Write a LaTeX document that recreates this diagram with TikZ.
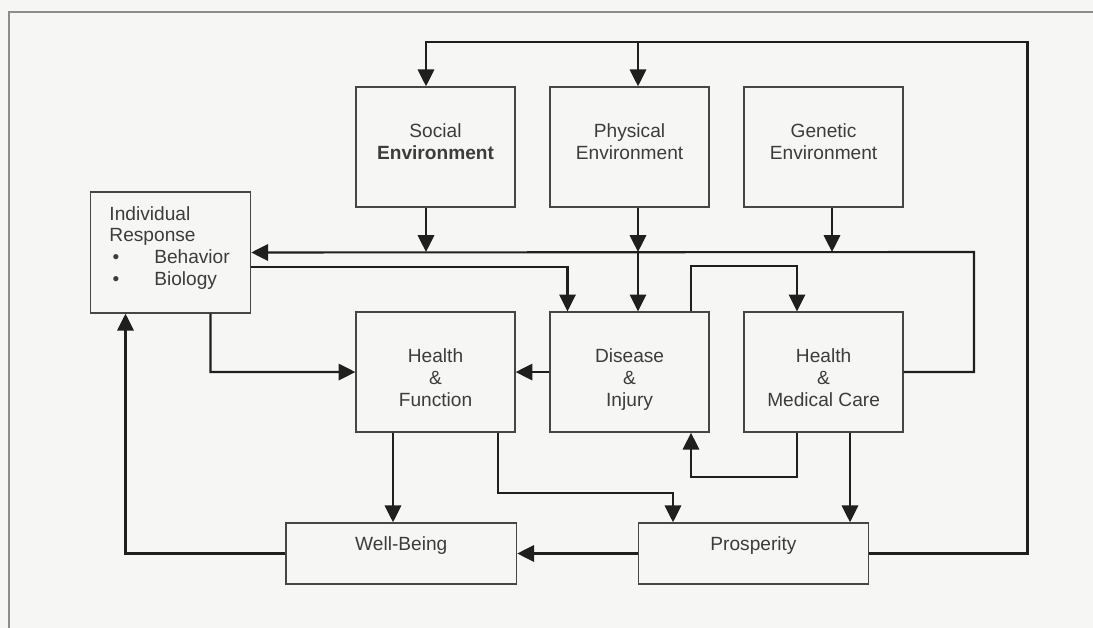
\documentclass[tikz,border=0pt]{standalone}
\usepackage{fontspec}
\setmainfont{Liberation Sans}
\usetikzlibrary{arrows.meta,positioning}
\definecolor{paper}{RGB}{246,246,245}
\definecolor{inkgray}{RGB}{60,60,60}
\definecolor{boxline}{RGB}{70,70,70}
\definecolor{frameline}{RGB}{140,140,140}
% struts that set where the text sits in its box
\newcommand\lift[1]{\rule{0pt}{#1}}
\newcommand\sink[1]{\rule[-#1]{0pt}{0pt}}

\begin{document}
\begin{tikzpicture}[x=0.025cm,y=-0.025cm,node distance=5cm,on grid,
  box/.style={draw=boxline,line width=1pt,minimum width=3.97cm,minimum height=3cm,
    align=center,text=inkgray,inner sep=0pt,font=\fontsize{13.6}{15.6}\selectfont},
  widebox/.style={box,minimum width=5.76cm,minimum height=1.525cm},
  flow/.style={draw=black!88,line width=1.5pt,-{Triangle[length=0.42cm,width=0.41cm]}}]
  \fill[paper] (0,0) rectangle (1093,628);
  \useasboundingbox (0,0) rectangle (1093,628);
  % frame
  \draw[frameline,line width=0.9pt] (9,628) -- (9,12) -- (1093,12);

  % boxes
  \node[box] (social) at (435.5,147) {Social\\\textbf{Environment}\sink{0.285cm}};
  \node[box] (physical) [right=4.85cm of social] {Physical\\Environment\sink{0.285cm}};
  \node[box,line width=1.8pt] (genetic) [right=4.85cm of physical] {Genetic\\Environment\sink{0.285cm}};
  \node[box] (function) [below=5.625cm of social] {\lift{0.725cm}Health\\\&\\Function\sink{0.1cm}};
  \node[box] (disease) [below=5.625cm of physical] {\lift{0.725cm}Disease\\\&\\Injury\sink{0.1cm}};
  \node[box] (care) [below=5.625cm of genetic] {\lift{0.725cm}Health\\\&\\Medical Care\sink{0.1cm}};
  \node[box,minimum width=4cm,minimum height=3.025cm,text width=3.05cm,align=left] (response) at (170.5,252.5)
    {Individual\\Response\\\makebox[1.12cm][l]{\hspace{0.08cm}\textbullet}Behavior\\\makebox[1.12cm][l]{\hspace{0.08cm}\textbullet}Biology\sink{0.325cm}};
  \node[widebox] (wellbeing) at (401.3,553.5) {Well-Being\sink{0.49cm}};
  \node[widebox] (prosperity) at (753.5,553.5) {Prosperity\sink{0.49cm}};

  % turning points
  \coordinate (corner) at (1027.5,42);
  \coordinate (topa) at (426,42);
  \coordinate (topb) at (638,42);
  \coordinate (busa) at (426,252);
  \coordinate (busb) at (638,252);
  \coordinate (busc) at (832,252);
  \coordinate (busd) at (974,252);
  \coordinate (inj) at (567.5,267);
  \coordinate (dca) at (691,266);
  \coordinate (dcb) at (797,266);
  \coordinate (rf) at (210.5,372);
  \coordinate (fw) at (393,480);
  \coordinate (fpa) at (498,493);
  \coordinate (fpb) at (673,493);
  \coordinate (cda) at (797,477);
  \coordinate (cdb) at (691,477);
  \coordinate (cp) at (850,480);
  \coordinate (wr) at (125.5,553);

  % connectors
  \draw[flow] (prosperity.east) -| (corner) -- (topa) -- (topa |- social.north);
  \draw[flow] (topb) -- (topb |- physical.north);
  \draw[flow] (topa |- social.south) -- (busa);
  \draw[flow] (topb |- physical.south) -- (busb);
  \draw[flow] (busc |- genetic.south) -- (busc);
  \draw[flow] (busb) -- (busb |- disease.north);
  \draw[flow] (care.east) -| (busd) -- (response.east);
  \draw[flow] (response.east |- inj) -- (inj) -- (inj |- disease.north);
  \draw[flow] (dca |- disease.north) -- (dca) -- (dcb) -- (dcb |- care.north);
  \draw[flow] (rf |- response.south) -- (rf) -- (function.west);
  \draw[flow] (disease.west) -- (function.east);
  \draw[flow] (fw |- function.south) -- (fw |- wellbeing.north);
  \draw[flow] (fpa |- function.south) -- (fpa) -- (fpb) -- (fpb |- prosperity.north);
  \draw[flow] (cda |- care.south) -- (cda) -- (cdb) -- (cdb |- disease.south);
  \draw[flow] (cp |- care.south) -- (cp |- prosperity.north);
  \draw[flow] (prosperity.west) -- (wellbeing.east);
  \draw[flow] (wellbeing.west) -| (wr |- response.south);
\end{tikzpicture}
\end{document}
